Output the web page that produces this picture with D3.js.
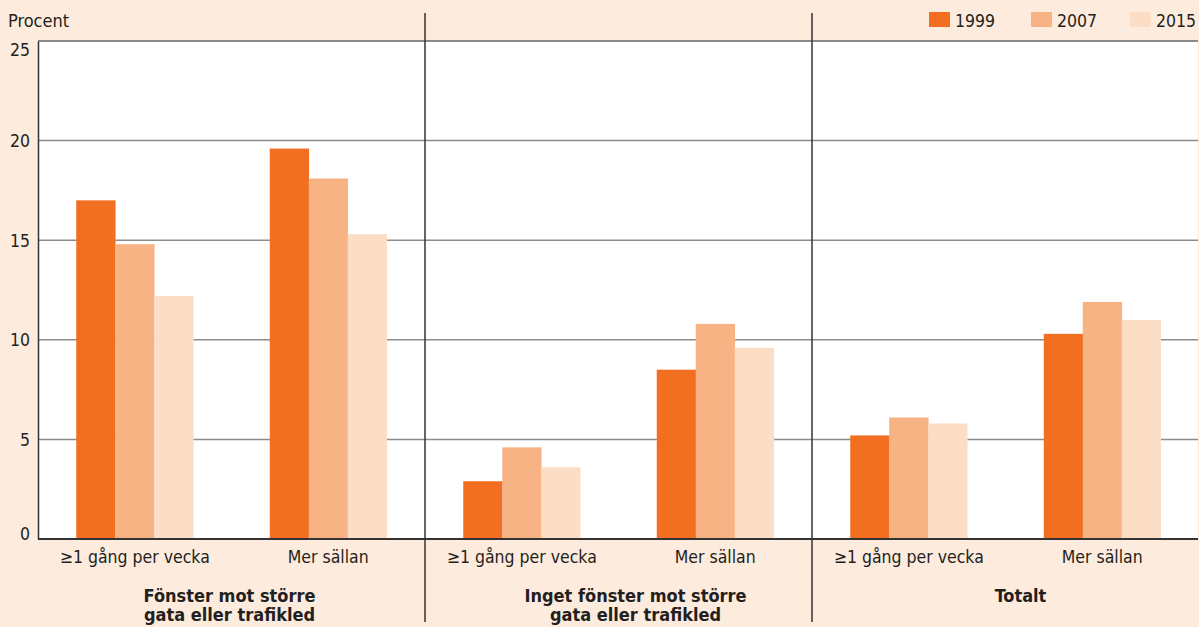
<!DOCTYPE html>
<html><head><meta charset="utf-8">
<script src="https://cdn.jsdelivr.net/npm/d3@7"></script>
<style>
html,body{margin:0;padding:0;background:#fdebdd;}
svg{display:block;font-family:"DejaVu Sans Condensed","DejaVu Sans",sans-serif;}
</style></head><body>
<svg id="c" width="1199" height="627"></svg>
<script>
const panels = ["Fönster mot större\ngata eller trafikled", "Inget fönster mot större\ngata eller trafikled", "Totalt"];
const subcats = ["≥1 gång per vecka", "Mer sällan"];
const years = ["1999", "2007", "2015"];
const colors = ["#f26f22", "#f8b384", "#fcddc6"];
const values1999 = [17.0, 19.6, 2.9, 8.5, 5.2, 10.3];
const values2007 = [14.8, 18.1, 4.6, 10.8, 6.1, 11.9];
const values2015 = [12.2, 15.3, 3.6, 9.6, 5.8, 11.0];
const yTicks = [0, 5, 10, 15, 20, 25];

const series = [values1999, values2007, values2015];
const svg = d3.select("#c");
const L = 38, R = 1198, T = 41, B = 539;
const FONT = "DejaVu Sans Condensed";
const TXT = "#231f20";
const titleShift = [-2, 17, 15];

const y = d3.scaleLinear().domain([0, 25]).range([B, T]);
const xPanel = d3.scaleBand().domain(d3.range(panels.length)).range([L, 1199]);
const xSub = d3.scaleBand().domain(d3.range(subcats.length)).range([0, xPanel.bandwidth()]);
const xYear = d3.scaleBand().domain(years).range([0, 117]);

// plot background
svg.append("rect").attr("x", L).attr("y", T).attr("width", R - L).attr("height", B - T).attr("fill", "#fff");

// gridlines
svg.append("g").selectAll("line").data(yTicks.filter(d => d > 0 && d < 25)).join("line")
  .attr("x1", L).attr("x2", R).attr("y1", d => y(d)).attr("y2", d => y(d))
  .attr("stroke", "#8c8c8c").attr("stroke-width", 1.5);
svg.append("line").attr("x1", L).attr("x2", R).attr("y1", y(25)).attr("y2", y(25))
  .attr("stroke", "#666").attr("stroke-width", 1.5);

// bars
const rows = [];
panels.forEach((p, pi) => subcats.forEach((s, si) => {
  const idx = pi * subcats.length + si;
  years.forEach((yr, yi) => rows.push({pi, si, yr, yi, v: series[yi][idx]}));
}));
svg.append("g").selectAll("rect").data(rows).join("rect")
  .attr("x", d => xPanel(d.pi) + xSub(d.si) + (xSub.bandwidth() - 117) / 2 + xYear(d.yr))
  .attr("width", xYear.bandwidth() + 0.3)
  .attr("y", d => y(d.v))
  .attr("height", d => y(0) - y(d.v))
  .attr("fill", d => colors[d.yi]);

// y axis
const yAxis = d3.axisLeft(y).tickValues(yTicks).tickSize(0).tickPadding(8);
const gy = svg.append("g").attr("transform", `translate(${L},0)`).call(yAxis);
gy.select(".domain").attr("stroke", "#333").attr("stroke-width", 1.5);
gy.selectAll("text").attr("font-size", 17.5).attr("fill", TXT).attr("font-family", FONT)
  .attr("dy", d => d === 0 ? "0em" : d === 25 ? "0.8em" : "0.35em");

// x axis baseline
svg.append("line").attr("x1", L).attr("x2", R).attr("y1", B).attr("y2", B).attr("stroke", "#333").attr("stroke-width", 2);

// panel dividers
panels.forEach((p, pi) => {
  if (pi > 0) svg.append("line").attr("x1", xPanel(pi)).attr("x2", xPanel(pi)).attr("y1", 13).attr("y2", 622)
    .attr("stroke", "#333").attr("stroke-width", 1.5);
});

// sub category labels
panels.forEach((p, pi) => {
  subcats.forEach((s, si) => {
    svg.append("text").attr("x", xPanel(pi) + xSub(si) + xSub.bandwidth() / 2).attr("y", 563)
      .attr("text-anchor", "middle").attr("font-size", 17.5).attr("fill", TXT).text(s);
  });
  const lines = p.split("\n");
  const cx = xPanel(pi) + xPanel.bandwidth() / 2 + titleShift[pi];
  const t = svg.append("text").attr("x", cx).attr("y", 602)
    .attr("text-anchor", "middle").attr("font-size", 18).attr("font-weight", "bold").attr("fill", TXT);
  lines.forEach((ln, li) => t.append("tspan").attr("x", cx).attr("dy", li ? 19 : 0).text(ln));
});

// y label
svg.append("text").attr("x", 8).attr("y", 27).attr("font-size", 18).attr("fill", TXT).text("Procent");

// legend
const legX = [929, 1031, 1130];
years.forEach((yr, i) => {
  svg.append("rect").attr("x", legX[i]).attr("y", 12).attr("width", 21).attr("height", 15).attr("fill", colors[i]);
  svg.append("text").attr("x", legX[i] + 26).attr("y", 27).attr("font-size", 17.5).attr("fill", TXT).text(yr);
});
</script>
</body></html>
